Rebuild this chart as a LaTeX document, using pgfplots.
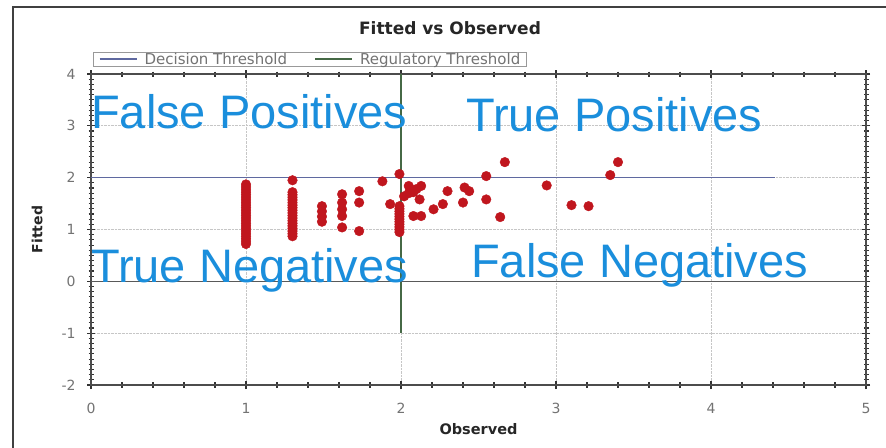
\documentclass[border=0pt]{standalone}
\usepackage{pgfplots}
\pgfplotsset{compat=1.18}
\usepackage{fontspec}
\setmainfont{Liberation Sans}
\newfontfamily\chartfont{DejaVu Sans}
\definecolor{ptred}{RGB}{192,22,30}
\definecolor{annblue}{RGB}{26,142,220}
\definecolor{decline}{RGB}{95,105,160}
\definecolor{regline}{RGB}{70,105,70}
\definecolor{ticklab}{RGB}{115,115,115}
\begin{document}
\begin{tikzpicture}
\path[use as bounding box] (0,0) rectangle (886bp,448bp);
\fill[white] (0,0) rectangle (886bp,448bp);
\draw[gray!50!black, line width=1.5bp] (13bp,0) -- (13bp,441bp) -- (886bp,441bp);
\node[font=\chartfont\bfseries\fontsize{17bp}{17bp}\selectfont, text=black!85, anchor=base] at (450bp,413bp) {Fitted vs Observed};
\begin{axis}[
  at={(91bp,63bp)}, anchor=south west,
  scale only axis, width=775bp, height=311bp,
  xmin=0, xmax=5, ymin=-2, ymax=4,
  xtick={0,1,2,3,4,5}, ytick={-2,-1,0,1,2,3,4},
  minor x tick num=4, minor y tick num=9,
  tick align=center, tick pos=both,
  major tick length=8bp, minor tick length=5bp,
  every tick/.style={black!80, line width=1.1bp},
  axis line style={black!70, line width=1.5bp},
  grid=major,
  major grid style={densely dotted, gray!45, line width=1bp},
  /pgf/number format/assume math mode=true,
  ticklabel style={font=\chartfont\fontsize{14bp}{14bp}\selectfont, text=ticklab},
  xticklabel style={yshift=-11bp},
  yticklabel style={xshift=-8bp},
  xlabel={Observed}, ylabel={Fitted},
  xlabel style={font=\chartfont\bfseries\fontsize{14.5bp}{14.5bp}\selectfont, text=black!85, yshift=-3bp},
  ylabel style={font=\chartfont\bfseries\fontsize{14bp}{14bp}\selectfont, text=black!85, yshift=12bp},
  legend columns=2,
  legend cell align=left,
  legend style={at={(rel axis cs:0.0026,1.0225)}, anchor=south west,
    draw=gray!80, line width=1.2bp, fill=white,
    font=\chartfont\fontsize{15bp}{15bp}\selectfont, text=ticklab,
    inner xsep=5bp, inner ysep=0bp,
    /tikz/every odd column/.append style={column sep=6bp},
    /tikz/every even column/.append style={column sep=26bp},
    nodes={inner ysep=0.5bp, inner xsep=1bp}},
  legend image code/.code={\draw[#1, line width=2bp] (0bp,0bp) -- (37bp,0bp);},
  clip=false,
]
\addplot[decline, line width=1.6bp] coordinates {(0,2) (4.41,2)};
\addlegendentry{Decision Threshold}
\addplot[regline, line width=1.5bp] coordinates {(2,-1.0) (2,4)};
\addlegendentry{Regulatory Threshold}
\addplot[black!65, line width=1.6bp, forget plot] coordinates {(0,0) (5,0)};
\addplot[only marks, mark=*, mark size=4.8bp, color=ptred, forget plot] coordinates {
(1,0.72) (1,0.77) (1,0.82) (1,0.87) (1,0.92) (1,0.97) (1,1.02) (1,1.07) (1,1.12)
(1,1.17) (1,1.22) (1,1.27) (1,1.32) (1,1.37) (1,1.42) (1,1.47) (1,1.52) (1,1.57)
(1,1.62) (1,1.67) (1,1.72) (1,1.77) (1,1.82) (1,1.87)
(1.3,0.87) (1.3,0.92) (1.3,0.97) (1.3,1.02) (1.3,1.07) (1.3,1.12) (1.3,1.17)
(1.3,1.22) (1.3,1.27) (1.3,1.32) (1.3,1.37) (1.3,1.42) (1.3,1.47) (1.3,1.52)
(1.3,1.57) (1.3,1.62) (1.3,1.67) (1.3,1.72) (1.3,1.95)
(1.49,1.15) (1.49,1.25) (1.49,1.35) (1.49,1.45)
(1.62,1.04) (1.62,1.26) (1.62,1.39) (1.62,1.52) (1.62,1.68)
(1.73,0.97) (1.73,1.52) (1.73,1.74)
(1.88,1.93) (1.93,1.49)
(1.99,2.07) (1.99,0.95) (1.99,1.00) (1.99,1.05) (1.99,1.10) (1.99,1.15) (1.99,1.20)
(1.99,1.25) (1.99,1.30) (1.99,1.35) (1.99,1.40) (1.99,1.45)
(2.05,1.84) (2.13,1.84) (2.08,1.72) (2.02,1.64) (2.12,1.58) (2.08,1.26) (2.13,1.26)
(2.05,1.70) (2.10,1.78)
(2.21,1.39) (2.27,1.49) (2.30,1.74) (2.41,1.81) (2.44,1.74) (2.40,1.52)
(2.55,2.03) (2.55,1.58) (2.67,2.30) (2.64,1.24)
(2.94,1.85) (3.10,1.47) (3.21,1.45) (3.35,2.05) (3.40,2.30)
};
\end{axis}
\begin{scope}[every node/.style={font=\fontsize{47bp}{47bp}\selectfont, text=annblue, inner sep=0pt, anchor=base west}]
\node at (91bp,319bp) {False Positives};
\node at (466bp,316bp) {True Positives};
\node at (91bp,165bp) {True Negatives};
\node at (471bp,170bp) {False Negatives};
\end{scope}
\end{tikzpicture}
\end{document}
